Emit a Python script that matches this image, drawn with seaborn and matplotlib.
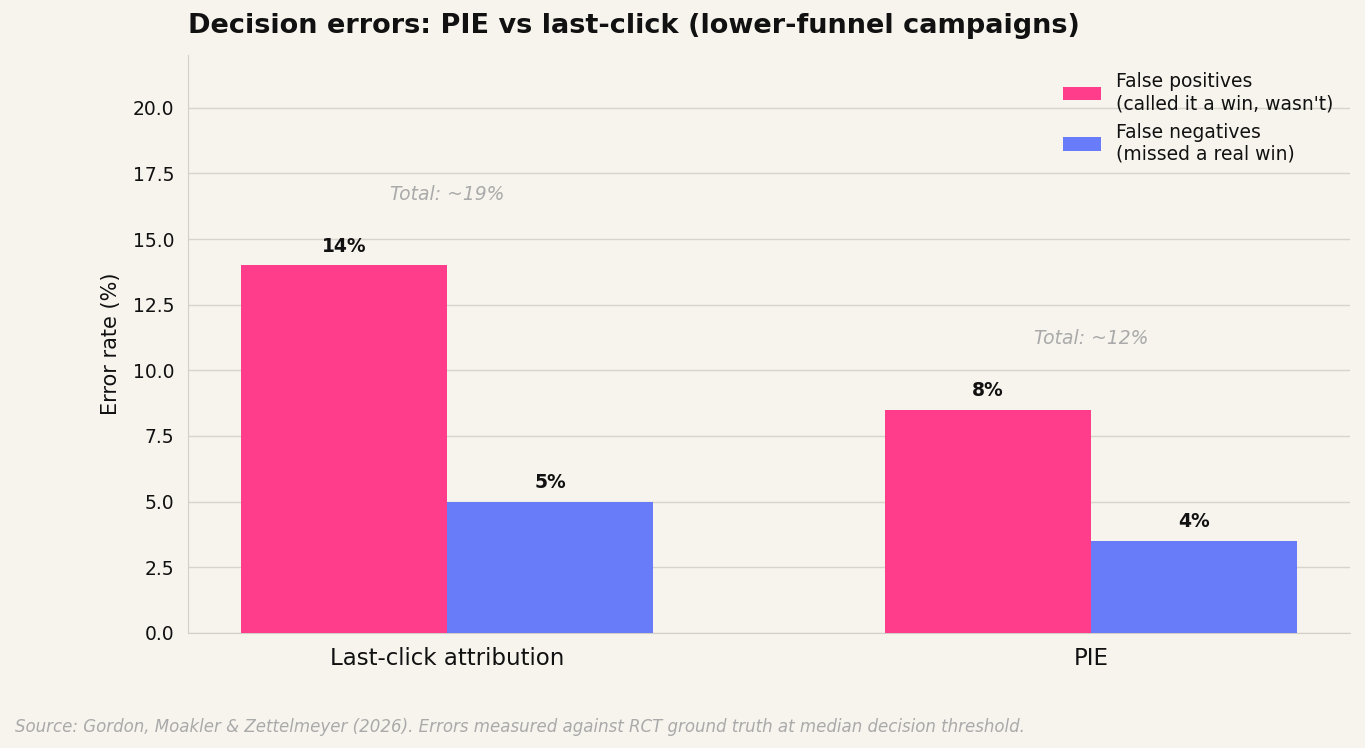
import pandas as pd
import matplotlib.pyplot as plt
import seaborn as sns

# chart data
methods = ['Last-click attribution', 'PIE']
false_pos = [14.0, 8.5]
false_neg = [5.0, 3.5]
series_names = ["False positives\n(called it a win, wasn't)",
                "False negatives\n(missed a real win)"]
yticks = [0, 2.5, 5, 7.5, 10, 12.5, 15, 17.5, 20]

bg = '#f7f4ee'
colors = {series_names[0]: '#ff3d8a', series_names[1]: '#687cfa'}

# long format for seaborn
df = pd.DataFrame({
    'method': methods * 2,
    'error': false_pos + false_neg,
    'kind': [series_names[0]] * 2 + [series_names[1]] * 2,
})

sns.set_style('white')
plt.rcParams['font.family'] = ['DejaVu Sans']

fig, ax = plt.subplots(figsize=(13.65, 7.48), dpi=100)
fig.patch.set_facecolor(bg)
ax.set_facecolor(bg)
fig.subplots_adjust(left=0.1377, right=0.989, top=0.926, bottom=0.154)

sns.barplot(data=df, x='method', y='error', hue='kind', palette=colors,
            width=0.64, gap=0, saturation=1, linewidth=0, ax=ax, zorder=3)

# value labels on bars
for cont in ax.containers:
    ax.bar_label(cont, labels=[f"{b.get_height():.0f}%" for b in cont],
                 padding=7, fontsize=13.5, fontweight='bold', color='#111111')

# totals above each group
for i, m in enumerate(methods):
    total = false_pos[i] + false_neg[i]
    top = max(false_pos[i], false_neg[i])
    ax.text(i, top + 2.35, f"Total: ~{total:.0f}%", ha='center', va='bottom',
            fontsize=13.5, fontstyle='italic', color='#aaaaaa')

ax.set_xlim(-0.402, 1.402)
ax.set_ylim(0, 22)
ax.set_yticks(yticks)
ax.set_yticklabels([f"{t:.1f}" for t in yticks], fontsize=13.5, color='#111111')
ax.tick_params(axis='x', labelsize=16.5, length=5, pad=5, color='#333333', labelcolor='#111111')
ax.tick_params(axis='y', length=4, pad=6, color='#333333')
ax.set_xlabel('')
ax.set_ylabel('Error rate (%)', fontsize=15, color='#111111', labelpad=8)
ax.grid(axis='y', color='#d8d4cc', linewidth=1, zorder=0)
ax.set_axisbelow(True)

sns.despine(ax=ax)
for s in ['left', 'bottom']:
    ax.spines[s].set_color('#d3cfc7')

ax.set_title('Decision errors: PIE vs last-click (lower-funnel campaigns)',
             loc='left', fontsize=19.5, fontweight='bold', color='#111111', pad=16)
ax.legend(frameon=False, fontsize=13.5, loc='upper right', title=None,
          labelcolor='#111111')

fig.text(0.011, 0.022, 'Source: Gordon, Moakler & Zettelmeyer (2026). Errors measured against RCT '
         'ground truth at median decision threshold.',
         fontsize=12, fontstyle='italic', color='#aaaaaa')

plt.savefig('out.png', dpi=100, facecolor=bg)
